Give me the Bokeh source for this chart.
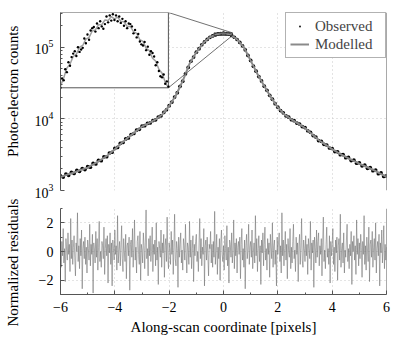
import numpy as np
from bokeh.plotting import figure
from bokeh.layouts import column, row
from bokeh.models import Range1d, LinearScale, FixedTicker, Span, Legend, LegendItem, Label
from bokeh.embed import file_html
from bokeh.resources import INLINE

FONT = "Liberation Serif"

# ---------------- data ----------------
# model photo-electron counts, sampled every 0.25 px from -6 to 6
model_counts = [1545, 1667, 1786, 1941, 2089, 2366, 2692, 3133, 3776, 4613,
                5534, 6592, 7798, 8710, 9817, 11535, 15136, 21380, 33884, 58884,
                85114, 114815, 138038, 152055, 158125, 151008, 128825, 100000, 65163, 42364,
                28840, 19953, 14454, 11482, 9840, 8610, 7464, 6166, 5070, 4365,
                3776, 3311, 2951, 2630, 2371, 2148, 1950, 1738, 1545]

# observed counts, sampled every 0.1 px from -6 to 6
obs_counts = [1600, 1540, 1700, 1630, 1790, 1730, 1910, 1850, 2030, 1960,
              2150, 2120, 2390, 2350, 2640, 2610, 2950, 2960, 3340, 3420,
              3870, 4000, 4540, 4680, 5250, 5430, 6050, 6250, 6950, 7160,
              7920, 8030, 8640, 8790, 9480, 9690, 10620, 11020, 12330, 13420,
              15290, 17200, 20150, 23220, 28450, 33600, 42600, 52300, 63800, 73000,
              85500, 95500, 108500, 118800, 128600, 137700, 143900, 148900, 153500, 155200,
              158400, 154900, 152800, 146500, 138100, 128400, 116800, 104800, 92200, 76900,
              65500, 54500, 46400, 39000, 33900, 28650, 25050, 21330, 18840, 16330,
              14590, 13060, 12140, 11030, 10580, 9730, 9440, 8750, 8480, 7810,
              7560, 6830, 6510, 5840, 5570, 4980, 4860, 4420, 4320, 3920,
              3860, 3500, 3470, 3160, 3170, 2870, 2900, 2620, 2650, 2400,
              2440, 2210, 2260, 2040, 2090, 1890, 1930, 1720, 1760, 1570,
              1600]

# zoomed peak: observed every 0.01 px, model every 0.02 px, from -0.35 to 0.33
inset_obs = [146000, 147600, 147300, 149200, 148700, 150400, 149800, 151300, 151900, 152300,
             151500, 153000, 152200, 152600, 152900, 154500, 153700, 155200, 154300, 155900,
             156300, 156500, 155700, 157100, 156300, 157500, 156600, 156200, 157000, 158300,
             157300, 158500, 157600, 158700, 157700, 158500, 157500, 158300, 157200, 157900,
             156700, 157500, 156300, 157100, 157000, 156600, 155400, 156000, 154700, 155300,
             154000, 153500, 153300, 153900, 152500, 153100, 151700, 152300, 152000, 151400,
             149900, 150400, 148900, 148000, 147800, 148300, 146700, 147100, 146200]
inset_model = [146300, 147700, 149400, 150100, 151400, 151800, 153000, 153300, 154400, 154700,
               155800, 156000, 156900, 156900, 157700, 157600, 158300, 157900, 158200, 157500,
               157400, 156600, 156600, 155700, 155400, 154300, 154000, 152800, 152400, 151100,
               150600, 149200, 148500, 147000, 146000]

# normalized residuals, sampled every 0.025 px from -6 to 6
residuals = [
    0.4, -1.1, 0.7, -0.3, 1.6, -0.8, 0.2, -2.1, 0.9, 0.1, -0.6, 1.3, -0.2, 0.5, -1.4, 2.3, -0.5, 0.8, -0.9, 0.3,
    1.1, -0.4, -1.7, 0.6, 0.0, 2.7, -0.7, 0.4, -1.2, 0.9, -0.3, 1.5, -2.6, 0.2, 0.7, -0.5, 1.0, -0.9, 0.3, -1.5,
    0.8, 0.2, -0.6, 1.9, -1.0, 0.5, -0.2, 1.2, -2.9, 0.6, 0.1, -0.8, 1.4, -0.4, 0.9, -1.3, 0.3, 2.1, -0.7, 0.0,
    -1.1, 0.7, 0.4, -0.5, 1.7, -1.6, 0.2, 0.9, -0.3, 1.1, -2.2, 0.5, -0.1, 1.3, -0.9, 0.6, -2.4, 0.8, 0.2, -0.6,
    1.5, -0.2, 0.4, -1.3, 2.5, -0.8, 0.1, 0.7, -1.0, 0.3, 1.8, -0.5, -1.4, 0.9, 0.0, -0.7, 1.2, -1.9, 0.4, 0.6,
    -0.3, 1.0, -2.7, 0.5, 0.8, -0.4, 1.6, -1.1, 0.2, 2.2, -0.6, 0.3, -1.5, 0.7, 1.1, -0.2, -0.9, 1.4, -2.0, 0.5,
    0.1, -0.8, 1.3, 0.4, -1.2, 0.6, 2.9, -0.5, 0.2, -1.7, 0.9, -0.3, 1.1, -0.7, 0.0, 1.7, -1.4, 0.5, -0.2, 0.8,
    -1.0, 2.0, -0.6, 0.3, -2.3, 0.7, 0.2, -0.4, 1.5, -1.1, 0.6, -0.1, 1.2, -1.8, 0.4, 0.9, -0.7, 2.4, -0.3, -1.2,
    0.6, 0.1, -0.9, 1.4, -0.2, 0.8, -1.6, 0.3, 2.6, -0.5, -1.0, 0.7, 0.2, -2.5, 1.0, -0.4, 0.5, 1.3, -0.8, 0.1,
    -1.3, 0.9, 0.4, -0.6, 1.9, -0.1, -1.5, 0.6, 0.3, -0.9, 2.1, -0.4, 0.8, -1.2, 0.2, 1.1, -2.1, 0.5, -0.3, 0.7,
    1.2, -0.7, 0.0, -1.4, 0.6, 2.3, -0.5, 0.9, -1.0, 0.3, -0.2, 1.6, -2.4, 0.4, 0.8, -0.6, 1.0, -0.3, -1.7, 0.5,
    0.2, 1.4, -0.8, 0.5, -1.1, 0.7, -0.4, 2.8, -0.9, 0.1, 1.2, -1.6, 0.3, -0.5, 0.9, -2.0, 0.6, 1.5, -0.2, -0.7,
    0.4, -1.3, 1.1, 0.2, -0.6, 1.8, -1.0, 0.3, -2.2, 0.8, 0.5, -0.4, 1.3, -0.8, 0.0, 2.2, -1.2, 0.6, -0.3, 0.9,
    -1.5, 0.3, 0.7, -0.2, 1.0, -1.9, 0.5, 1.6, -0.6, 0.2, -1.1, 0.8, -2.6, 0.4, 1.2, -0.5, 0.1, 1.9, -0.9, 0.3,
    0.7, -0.4, 1.5, -1.2, 0.0, 0.6, -0.8, 2.5, -0.3, 0.9, -1.4, 0.2, 1.1, -0.7, 0.4, -2.3, 0.8, -0.1, 1.3, -1.0,
    0.5, 1.7, -0.6, 0.2, -1.3, 0.9, -0.2, 0.6, -1.8, 1.2, 0.3, -0.5, 2.0, -1.1, 0.4, 0.8, -0.9, 0.1, -2.4, 1.0,
    -0.2, 0.6, 1.3, -0.7, 0.4, -1.5, 2.7, -0.3, 0.8, -1.0, 0.2, 1.4, -0.6, 0.5, -1.9, 0.9, 0.0, -0.4, 1.6, -1.2,
    0.3, -0.8, 0.7, 1.9, -0.5, 0.1, -1.4, 1.0, -0.2, 0.6, -2.1, 0.4, 1.2, -0.9, 0.3, 2.3, -0.6, -1.1, 0.8, 0.2,
    -0.7, 1.1, -0.3, 0.5, -1.6, 0.9, 0.2, -0.5, 2.1, -1.3, 0.6, -0.1, 0.8, -2.5, 1.0, 0.3, -0.8, 1.5, -0.4, 0.7,
    1.3, -1.0, 0.4, -0.2, 0.9, -1.7, 0.6, 2.4, -0.7, 0.1, -1.2, 0.5, 1.7, -0.4, 0.2, -0.9, 1.1, -2.2, 0.7, -0.3,
    0.5, 1.6, -0.9, 0.3, -1.4, 0.8, -0.1, 1.0, -2.0, 0.4, 0.9, -0.6, 2.6, -1.1, 0.2, 0.6, -0.8, 1.3, -1.5, 0.1,
    -0.4, 0.8, 1.9, -0.7, 0.2, -1.2, 0.5, -0.3, 1.4, -2.3, 0.7, 0.0, 1.1, -0.6, 0.4, -1.6, 2.2, -0.2, 0.9, -1.0,
    0.6, -0.5, 1.2, 0.3, -1.8, 0.7, -0.2, 2.5, -0.9, 0.4, -1.3, 1.0, 0.1, -0.7, 1.7, -2.1, 0.5, 0.8, -0.4, 1.4,
    -1.1, 0.3, 0.9, -0.6, 2.0, -1.5, 0.2, 0.7, -0.3, 1.2, -2.4, 0.6, -0.1, 1.5, -0.8, 0.4, 1.8, -1.2, 0.5, -0.6,
    0.3]

x_ticks = [-6, -4, -2, 0, 2, 4, 6]
x_tick_labels = {-6: "\u22126", -4: "\u22124", -2: "\u22122", 0: "0", 2: "2", 4: "4", 6: "6"}
x_minor = [-5, -3, -1, 1, 3, 5]
y_log_ticks = [1e3, 1e4, 1e5]
res_ticks = [-2, 0, 2]
res_tick_labels = {-2: "\u22122", 0: "0", 2: "2"}
res_minor = [-3, -1, 1, 3]

top_ylabel = "Photo-electron counts"
bot_ylabel = "Normalized residuals"
xlabel = "Along-scan coordinate [pixels]"

x_lo, x_hi = -6, 6
y_lo, y_hi = 1e3, 3.06e5
res_lo, res_hi = -3, 3
inset_xlim = (-0.35, 0.33)
inset_ylim = (1.46e5, 1.59e5)
inset_fx = 0.331     # inset width as fraction of frame width
inset_fy = 0.577     # inset bottom as fraction of frame height

model_x = np.linspace(x_lo, x_hi, len(model_counts))
obs_x = np.linspace(x_lo, x_hi, len(obs_counts))
inset_obs_x = np.linspace(inset_xlim[0], inset_xlim[1], len(inset_obs))
inset_model_x = np.linspace(inset_xlim[0], inset_xlim[1], len(inset_model))
resid_x = np.linspace(x_lo, x_hi, len(residuals))

SPINE = "#555555"
GRID = "#c8c8c8"
MODEL_C = "#8a8a8a"
TOTAL_H = 339
LABEL_W = 28


def style_axis(ax):
    ax.axis_line_color = SPINE
    ax.major_tick_line_color = SPINE
    ax.minor_tick_line_color = SPINE
    ax.major_tick_in = 4
    ax.major_tick_out = 0
    ax.minor_tick_in = 2
    ax.minor_tick_out = 0
    ax.major_label_text_font = FONT
    ax.major_label_text_font_size = "14px"
    ax.major_label_text_color = "black"
    ax.axis_label_text_font = FONT
    ax.axis_label_text_font_size = "15px"
    ax.axis_label_text_font_style = "normal"
    ax.axis_label_text_color = "black"
    ax.major_label_standoff = 7


# ---------------- y-label strip ----------------
lab = figure(width=LABEL_W, height=TOTAL_H, x_range=Range1d(0, 1), y_range=Range1d(0, 1),
             output_backend="svg", toolbar_location=None, min_border=0,
             outline_line_color=None, x_axis_location=None, y_axis_location=None)
lab.grid.visible = False
for txt, yc in ((top_ylabel, 0.732), (bot_ylabel, 0.227)):
    lab.add_layout(Label(x=0.43, y=yc, text=txt, angle=np.pi / 2, text_align="center",
                         text_baseline="middle", text_font=FONT, text_font_size="15px",
                         text_color="black"))

# ---------------- top panel ----------------
top = figure(width=379, height=200, x_range=Range1d(x_lo, x_hi), y_range=Range1d(y_lo, y_hi),
             y_axis_type="log", output_backend="svg", toolbar_location=None,
             min_border_left=32, min_border_right=21, min_border_top=12, min_border_bottom=10,
             outline_line_color=None)
top.xaxis.visible = False
top.xgrid.ticker = FixedTicker(ticks=x_ticks)
top.ygrid.ticker = FixedTicker(ticks=y_log_ticks)
for g in (top.xgrid, top.ygrid):
    g.grid_line_color = GRID
    g.grid_line_dash = "1 3"
minor_log = [m * 10.0 ** e for e in (3, 4, 5) for m in range(2, 10) if m * 10.0 ** e < y_hi]
top.yaxis.ticker = FixedTicker(ticks=y_log_ticks, minor_ticks=minor_log)
style_axis(top.yaxis[0])

# inset coordinate system mapped onto the upper-left part of the frame
ix_end = inset_xlim[0] + (inset_xlim[1] - inset_xlim[0]) / inset_fx
iy_span = inset_ylim[1] - inset_ylim[0]
iy_start = inset_ylim[0] - inset_fy * iy_span / (1 - inset_fy)
top.extra_x_ranges = {"ix": Range1d(inset_xlim[0], ix_end)}
top.extra_y_ranges = {"iy": Range1d(iy_start, inset_ylim[1])}
top.extra_x_scales = {"ix": LinearScale()}
top.extra_y_scales = {"iy": LinearScale()}

top.scatter(obs_x, obs_counts, size=3.7, fill_color="black", line_color=None, marker="circle")
model_r = top.line(model_x, model_counts, line_color=MODEL_C, line_width=2.0)
obs_proxy = top.scatter(x=[np.nan], y=[np.nan], marker="dot", line_color="black",
                        fill_color="black", line_width=2.5, size=8)

# zoom rectangle and connector lines
top.quad(left=[inset_xlim[0]], right=[inset_xlim[1]], bottom=[inset_ylim[0]], top=[inset_ylim[1]],
         fill_color=None, line_color="#333333", line_width=0.8)
xc = x_lo + inset_fx * (x_hi - x_lo)
llo, lhi = np.log10(y_lo), np.log10(y_hi)
yc_bot = 10 ** (llo + inset_fy * (lhi - llo))
top.segment(x0=[xc, xc], y0=[y_hi, yc_bot], x1=[inset_xlim[1], inset_xlim[1]],
            y1=[inset_ylim[1], inset_ylim[0]], line_color="#333333", line_width=0.7)

# inset panel
top.quad(left=[inset_xlim[0]], right=[inset_xlim[1]], bottom=[inset_ylim[0]], top=[inset_ylim[1]],
         x_range_name="ix", y_range_name="iy", fill_color="white", line_color="#555555", line_width=1)
top.line(inset_model_x, inset_model, x_range_name="ix", y_range_name="iy",
         line_color="#a0a0a0", line_width=1.5)
top.scatter(inset_obs_x, inset_obs, x_range_name="ix", y_range_name="iy",
            size=2.4, fill_color="black", line_color=None, marker="circle")

top.add_layout(Span(location=x_hi, dimension="height", line_color=SPINE, line_width=1))

legend = Legend(items=[LegendItem(label="Observed", renderers=[obs_proxy]),
                       LegendItem(label="Modelled", renderers=[model_r])],
                location="top_right", margin=0, padding=4, spacing=0,
                glyph_width=19, glyph_height=18, label_height=18, label_width=66,
                label_standoff=6, border_line_color="#666666", border_line_width=1,
                background_fill_color="white", background_fill_alpha=1,
                label_text_font=FONT, label_text_font_size="15px")
top.add_layout(legend)

# ---------------- residual panel ----------------
bot = figure(width=379, height=139, x_range=top.x_range, y_range=Range1d(res_lo, res_hi),
             output_backend="svg", toolbar_location=None,
             min_border_left=32, min_border_right=21, min_border_top=8, min_border_bottom=45,
             outline_line_color=None)
bot.line(resid_x, residuals, line_color="#707070", line_width=0.8, line_alpha=0.7)
bot.xaxis.ticker = FixedTicker(ticks=x_ticks, minor_ticks=x_minor)
bot.xaxis.major_label_overrides = x_tick_labels
bot.yaxis.ticker = FixedTicker(ticks=res_ticks, minor_ticks=res_minor)
bot.yaxis.major_label_overrides = res_tick_labels
bot.xgrid.ticker = FixedTicker(ticks=x_ticks)
bot.ygrid.ticker = FixedTicker(ticks=res_ticks)
for g in (bot.xgrid, bot.ygrid):
    g.grid_line_color = GRID
    g.grid_line_dash = "1 3"
style_axis(bot.xaxis[0])
style_axis(bot.yaxis[0])
bot.xaxis.axis_label = xlabel
bot.xaxis.axis_label_standoff = 4
bot.add_layout(Span(location=x_hi, dimension="height", line_color=SPINE, line_width=1))

layout = row(lab, column(top, bot, spacing=0), spacing=0)
open("out.html", "w").write(file_html(layout, INLINE))
